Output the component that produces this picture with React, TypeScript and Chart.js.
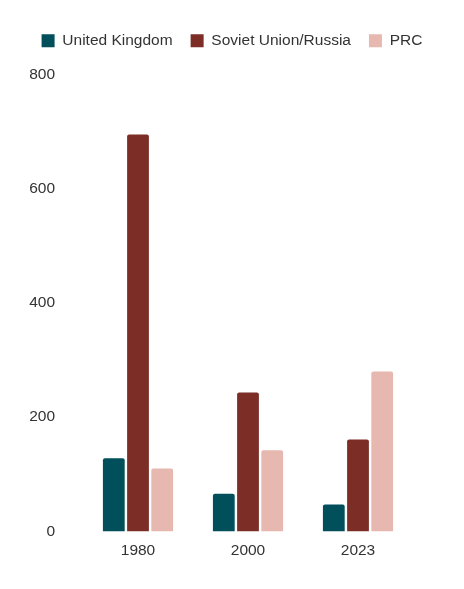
import React, { useEffect, useRef } from "react";
import { Chart, registerables } from "chart.js";

Chart.register(...registerables);

const categories = ["1980", "2000", "2023"];
const seriesNames = ["United Kingdom", "Soviet Union/Russia", "PRC"];
const ukValues = [128, 66, 47];
const russiaValues = [695, 243, 161];
const prcValues = [110, 142, 280];
const colors = ["#004f5a", "#7b2d26", "#e6b8b0"];
const yTicks = [0, 200, 400, 600, 800];

const FONT = { family: "Liberation Sans, Arial, sans-serif", size: 15.5 };

export default function App() {
  const ref = useRef<HTMLCanvasElement | null>(null);
  useEffect(() => {
    if (!ref.current) return;
    const values = [ukValues, russiaValues, prcValues];
    const chart = new Chart(ref.current, {
      type: "bar",
      data: {
        labels: categories,
        datasets: seriesNames.map((name, i) => ({
          label: name,
          data: values[i],
          backgroundColor: colors[i],
          borderRadius: 2,
          barPercentage: 0.9,
          categoryPercentage: 0.66,
        })),
      },
      options: {
        animation: false,
        responsive: true,
        maintainAspectRatio: false,
        layout: { padding: { left: 0, right: 0, top: 7, bottom: 19 } },
        plugins: {
          legend: {
            position: "top",
            labels: {
              boxWidth: 13,
              boxHeight: 13,
              padding: 18,
              color: "#333",
              font: FONT,
            },
          },
          title: {
            display: true,
            text: " ",
            weight: 500,
            color: "rgba(0,0,0,0)",
            font: { size: 1, lineHeight: 1 },
            padding: { top: 0, bottom: 15 },
          },
          tooltip: { enabled: false },
        },
        scales: {
          x: {
            grid: { display: false },
            border: { display: false },
            ticks: { color: "#333", font: FONT, padding: 2 },
          },
          y: {
            min: 0,
            max: 800,
            grid: { display: false },
            border: { display: false },
            afterFit: (s: any) => {
              s.width = 75;
            },
            afterBuildTicks: (s: any) => {
              s.ticks = yTicks.map((v) => ({ value: v }));
            },
            ticks: {
              padding: 20,
              color: "#333",
              font: FONT,
            },
          },
          yRight: {
            position: "right",
            display: true,
            grid: { display: false },
            border: { display: false },
            ticks: { display: false },
            afterFit: (s: any) => {
              s.width = 43;
            },
          },
        },
      },
    });
    return () => chart.destroy();
  }, []);
  return (
    <div style={{ width: 448, height: 573 }}>
      <canvas ref={ref} />
    </div>
  );
}
